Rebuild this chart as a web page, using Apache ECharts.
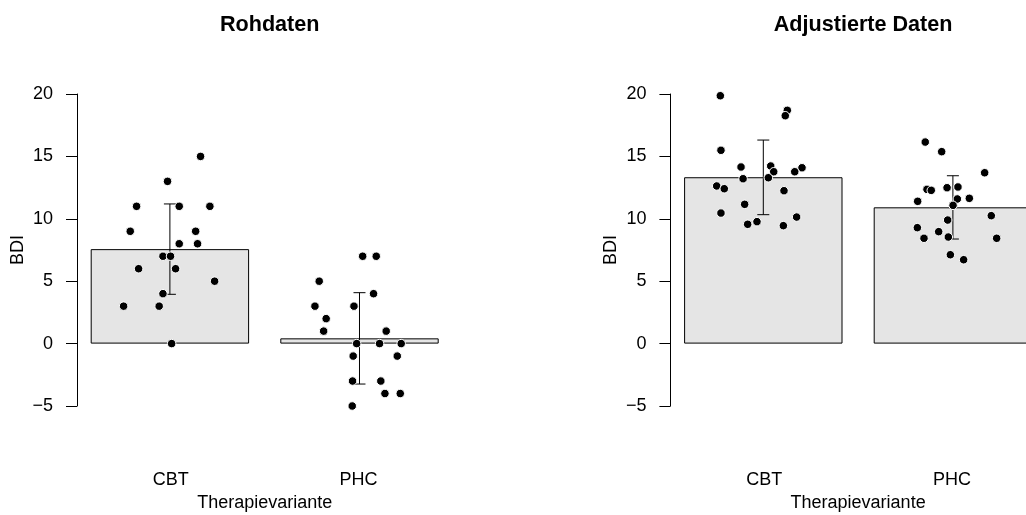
<!DOCTYPE html>
<html>
<head>
<meta charset="utf-8">
<script src="https://cdn.jsdelivr.net/npm/echarts@6/dist/echarts.min.js"></script>
<style>html,body{margin:0;padding:0;background:#fff;overflow:hidden;width:1026px;height:515px;}#c{width:1060px;height:515px;}</style>
</head>
<body>
<div id="c"></div>
<script>
// ---- data ----
const categories = ['CBT', 'PHC'];
const barX = [0.7, 1.9];
const yTicks = [-5, 0, 5, 10, 15, 20];
const titles = ['Rohdaten', 'Adjustierte Daten'];
const xName = 'Therapievariante';
const yName = 'BDI';

const rawMeans = [7.57, 0.42];
const rawErrLow = [3.95, -3.24];
const rawErrHigh = [11.19, 4.08];

const adjMeans = [13.33, 10.92];
const adjErrLow = [10.33, 8.38];
const adjErrHigh = [16.31, 13.45];

const rawCBT = [
  [0.894, 15], [0.685, 13], [0.489, 11], [0.759, 11], [0.953, 11],
  [0.449, 9], [0.863, 9], [0.759, 8], [0.875, 8], [0.656, 7],
  [0.704, 7], [0.502, 6], [0.736, 6], [0.983, 5], [0.656, 4],
  [0.407, 3], [0.632, 3], [0.711, 0]
];
const rawPHC = [
  [1.920, 7], [2.006, 7], [1.645, 5], [1.989, 4], [1.618, 3],
  [1.865, 3], [1.689, 2], [1.673, 1], [2.069, 1], [1.882, 0],
  [2.027, 0], [2.164, 0], [1.860, -1], [2.139, -1], [1.856, -3],
  [2.035, -3], [2.061, -4], [2.158, -4], [1.854, -5]
];
const adjCBT = [
  [0.428, 19.86], [0.852, 18.69], [0.839, 18.26], [0.432, 15.49], [0.559, 14.15],
  [0.747, 14.23], [0.766, 13.77], [0.945, 14.09], [0.899, 13.77], [0.572, 13.21],
  [0.732, 13.29], [0.405, 12.63], [0.453, 12.41], [0.831, 12.25], [0.582, 11.16],
  [0.432, 10.46], [0.911, 10.14], [0.660, 9.77], [0.601, 9.56], [0.827, 9.45]
];
const adjPHC = [
  [1.725, 16.15], [1.829, 15.38], [2.101, 13.69], [1.736, 12.36], [1.763, 12.28],
  [1.863, 12.49], [1.932, 12.55], [1.928, 11.59], [2.004, 11.64], [1.677, 11.40],
  [1.901, 11.08], [2.143, 10.25], [1.867, 9.90], [1.675, 9.29], [1.810, 8.97],
  [1.717, 8.44], [1.871, 8.54], [2.177, 8.44], [1.884, 7.12], [1.968, 6.72]
];

// ---- chart ----
const FONT = '"Liberation Sans", Arial, Helvetica, sans-serif';
const XMIN = 0.112, XMAX = 2.488;
const gridLefts = [77, 670.4];
const GW = 375.4, GTOP = 94, GH = 312;

function fmt(v) { return String(v).replace('-', '\u2212'); }

const grids = gridLefts.map(l => ({ left: l, top: GTOP, width: GW, height: GH, containLabel: false, outerBoundsMode: 'none' }));

const xAxes = [];
const yAxes = [];
[0, 1].forEach(i => {
  xAxes.push({
    type: 'category', gridIndex: i, data: categories, position: 'bottom',
    axisLine: { show: false }, axisTick: { show: false }, splitLine: { show: false },
    axisLabel: { color: '#000', fontSize: 18, fontFamily: FONT, margin: 65 },
    name: xName, nameLocation: 'middle', nameGap: 88,
    nameTextStyle: { color: '#000', fontSize: 18, fontFamily: FONT }
  });
  xAxes.push({
    type: 'value', gridIndex: i, min: XMIN, max: XMAX, show: false
  });
  yAxes.push({
    type: 'value', gridIndex: i, min: yTicks[0], max: yTicks[yTicks.length - 1], interval: 5,
    axisLine: { show: true, lineStyle: { color: '#000', width: 1 } },
    axisTick: { show: true, length: 11, inside: false, lineStyle: { color: '#000', width: 1 } },
    splitLine: { show: false },
    axisLabel: { color: '#000', fontSize: 18, fontFamily: FONT, margin: 24, formatter: v => fmt(v) },
    name: yName, nameLocation: 'middle', nameGap: 50, nameRotate: 90,
    nameTextStyle: { color: '#000', fontSize: 18, fontFamily: FONT }
  });
});

function errSeries(gi, lows, highs) {
  return {
    type: 'custom', coordinateSystem: 'cartesian2d', xAxisIndex: gi * 2 + 1, yAxisIndex: gi, z: 3,
    data: barX.map((x, k) => [x, lows[k], highs[k]]),
    renderItem: function (params, api) {
      const x = api.value(0);
      const pLo = api.coord([x, api.value(1)]);
      const pHi = api.coord([x, api.value(2)]);
      const c = 6;
      const st = { stroke: '#000', lineWidth: 1 };
      return {
        type: 'group', children: [
          { type: 'line', shape: { x1: pLo[0], y1: pLo[1], x2: pHi[0], y2: pHi[1] }, style: st },
          { type: 'line', shape: { x1: pHi[0] - c, y1: pHi[1], x2: pHi[0] + c, y2: pHi[1] }, style: st },
          { type: 'line', shape: { x1: pLo[0] - c, y1: pLo[1], x2: pLo[0] + c, y2: pLo[1] }, style: st }
        ]
      };
    }
  };
}

function barSeries(gi, means) {
  return {
    type: 'bar', xAxisIndex: gi * 2 + 1, yAxisIndex: gi, z: 2, barWidth: 158.4,
    data: barX.map((x, k) => [x, means[k]]),
    itemStyle: { color: '#E5E5E5', borderColor: '#000', borderWidth: 1 },
    silent: true
  };
}

function ptSeries(gi, pts) {
  return {
    type: 'scatter', xAxisIndex: gi * 2 + 1, yAxisIndex: gi, z: 4, clip: false,
    symbol: 'circle', symbolSize: 8.5,
    itemStyle: { color: '#000', borderColor: '#fff', borderWidth: 1, opacity: 1 },
    data: pts
  };
}

const option = {
  animation: false,
  backgroundColor: '#fff',
  title: titles.map((t, i) => ({
    text: t, left: gridLefts[i] + GW / 2, top: 9, textAlign: 'center',
    textStyle: { color: '#000', fontSize: 21.6, fontWeight: 'bold', fontFamily: FONT }
  })),
  grid: grids,
  xAxis: xAxes,
  yAxis: yAxes,
  series: [
    barSeries(0, rawMeans), errSeries(0, rawErrLow, rawErrHigh), ptSeries(0, rawCBT), ptSeries(0, rawPHC),
    barSeries(1, adjMeans), errSeries(1, adjErrLow, adjErrHigh), ptSeries(1, adjCBT), ptSeries(1, adjPHC)
  ]
};

const chart = echarts.init(document.getElementById('c'), null, { renderer: 'canvas' });
chart.setOption(option);
</script>
</body>
</html>
